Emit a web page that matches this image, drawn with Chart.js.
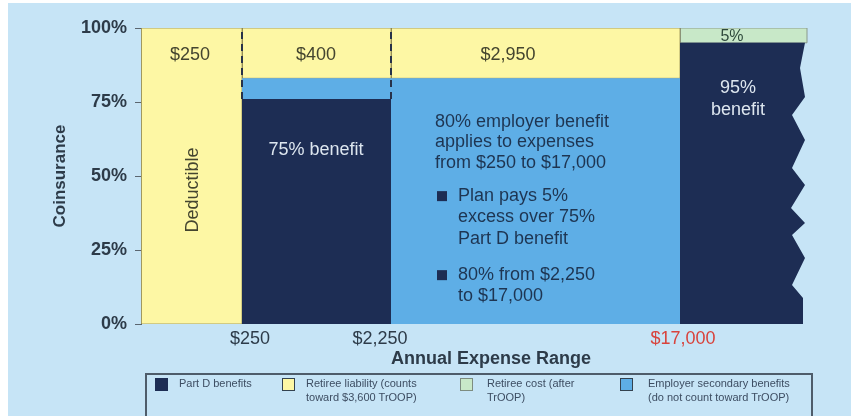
<!DOCTYPE html>
<html>
<head>
<meta charset="utf-8">
<script src="https://cdn.jsdelivr.net/npm/chart.js@4.4.1/dist/chart.umd.min.js"></script>
<style>
  html, body { margin: 0; padding: 0; background: #ffffff; }
  body { width: 851px; height: 416px; position: relative; overflow: hidden; font-family: "Liberation Sans", Arial, sans-serif; }
  #bg { position: absolute; left: 8px; top: 3px; right: 0; bottom: 0; background: #c6e4f6; }
  #chart { position: absolute; left: 0; top: 0; }
  #legend { position: absolute; left: 145px; top: 373px; width: 668px; height: 60px; border: 2px solid #4e5c6a; box-sizing: border-box; }
  .item { position: absolute; top: 1px; font-size: 11px; line-height: 14px; color: #3d4d62; white-space: nowrap; }
  .sw { position: absolute; top: 3px; width: 13px; height: 13px; box-sizing: border-box; border: 1px solid #34424f; }
</style>
</head>
<body>
<div id="bg"></div>
<canvas id="chart" width="851" height="416"></canvas>
<div id="legend">
  <div class="sw" style="left:8px;background:#1d2d54;border-color:#1d2d54"></div>
  <div class="item" style="left:32px">Part D benefits</div>
  <div class="sw" style="left:135px;background:#fdf7a4"></div>
  <div class="item" style="left:159px">Retiree liability (counts<br>toward $3,600 TrOOP)</div>
  <div class="sw" style="left:313px;background:#c8e8c8;border-color:#7d8c80"></div>
  <div class="item" style="left:340px">Retiree cost (after<br>TrOOP)</div>
  <div class="sw" style="left:473px;background:#5eaee6"></div>
  <div class="item" style="left:501px">Employer secondary benefits<br>(do not count toward TrOOP)</div>
</div>
<script>
// expense bands, left to right; the x axis is schematic, not to dollar scale
const bandNames = ["Deductible", "$250 to $2,250", "$2,250 to $17,000", "Over $17,000"];
const bandEdges = [0, 101, 250, 539, 666];

// coinsurance share (%) in each band, stacked bottom to top
const partD = [0, 76, 0, 95];
const employer = [0, 7, 83, 0];
const retireeLiability = [100, 17, 17, 0];
const retireeCost = [0, 0, 0, 5];

// torn right edge of the last Part D band, top to bottom
const jaggedEdge = [
  [664, 95], [659, 86.5], [664, 76.7], [651, 70.6], [664, 62.2], [651, 52.7],
  [664, 47], [650, 39.2], [664, 34.1], [651, 30.1], [664, 22.3], [651, 13.2],
  [662, 8.8], [662, 0]
];

const yTickValues = [0, 25, 50, 75, 100];
const xTickPos = [109, 239, 542];
const xTickLabels = ["$250", "$2,250", "$17,000"];

const FONT = "'Liberation Sans', Arial, sans-serif";
const NAVY = "#1d2d54";
const INK = "#2d3b49";

const series = [
  { values: partD, color: NAVY, border: 0 },
  { values: employer, color: "#5eaee6", border: 0 },
  { values: retireeLiability, color: "#fdf7a4", border: 1, line: "rgba(130,120,70,0.7)" },
  { values: retireeCost, color: "#c8e8c8", border: 1, line: "#8a9a8c" },
];

const datasets = [];

// dashed dividers between the first three bands
[1, 2].forEach(i => {
  datasets.push({
    data: [{ x: bandEdges[i], y: partD[1] }, { x: bandEdges[i], y: 100 }],
    showLine: true, borderColor: "#27324a", borderWidth: 2, borderDash: [7, 5],
    pointRadius: 0, fill: false,
  });
});

const base = [0, 0, 0, 0];
series.forEach((s, si) => {
  s.values.forEach((v, i) => {
    if (!v) return;
    const x0 = bandEdges[i], x1 = bandEdges[i + 1];
    const y0 = base[i], y1 = base[i] + v;
    let pts;
    if (si === 0 && i === 3) {
      pts = [{ x: x0, y: y0 }, { x: x0, y: y1 }].concat(jaggedEdge.map(p => ({ x: p[0], y: p[1] })));
    } else {
      pts = [{ x: x0, y: y0 }, { x: x1, y: y0 }, { x: x1, y: y1 }, { x: x0, y: y1 }, { x: x0, y: y0 }];
    }
    datasets.push({
      data: pts, showLine: true, fill: "shape",
      backgroundColor: s.color, borderColor: s.line || s.color, borderWidth: s.border,
      pointRadius: 0, tension: 0,
    });
    base[i] = y1;
  });
});

const notes = [
  { t: "$250", x: 49, y: 90.9, c: "#44452f" },
  { t: "$400", x: 175, y: 90.9, c: "#44452f" },
  { t: "$2,950", x: 367, y: 90.9, c: "#44452f" },
  { t: "5%", x: 591, y: 97, c: "#2f4a3c", size: 16 },
  { t: "95%", x: 597, y: 79.7, c: "#dde6ef" },
  { t: "benefit", x: 597, y: 72.3, c: "#dde6ef" },
  { t: "75% benefit", x: 175, y: 58.8, c: "#dde6ef" },
  { t: "Deductible", x: 52, y: 45.3, c: "#44452f", rot: true },
  { t: "80% employer benefit", x: 294, y: 68.2, c: "#1e3552", left: true },
  { t: "applies to expenses", x: 294, y: 61.5, c: "#1e3552", left: true },
  { t: "from $250 to $17,000", x: 294, y: 54.4, c: "#1e3552", left: true },
  { t: "Plan pays 5%", x: 317, y: 43.2, c: "#1e3552", left: true, bullet: true },
  { t: "excess over 75%", x: 317, y: 36.1, c: "#1e3552", left: true },
  { t: "Part D benefit", x: 317, y: 28.7, c: "#1e3552", left: true },
  { t: "80% from $2,250", x: 317, y: 16.5, c: "#1e3552", left: true, bullet: true },
  { t: "to $17,000", x: 317, y: 9.6, c: "#1e3552", left: true },
];

const notesPlugin = {
  id: "notes",
  afterDatasetsDraw(chart) {
    const { ctx, scales } = chart;
    ctx.save();
    notes.forEach(n => {
      const px = scales.x.getPixelForValue(n.x);
      const py = scales.y.getPixelForValue(n.y);
      ctx.font = (n.size || 18) + "px " + FONT;
      ctx.fillStyle = n.c;
      ctx.textBaseline = "middle";
      ctx.textAlign = n.left ? "left" : "center";
      if (n.rot) {
        ctx.save();
        ctx.translate(px, py);
        ctx.rotate(-Math.PI / 2);
        ctx.fillText(n.t, 0, 0);
        ctx.restore();
      } else {
        ctx.fillText(n.t, px, py);
      }
      if (n.bullet) {
        ctx.fillStyle = NAVY;
        ctx.fillRect(px - 21, py - 5, 10, 10);
      }
    });
    ctx.restore();
  }
};

new Chart(document.getElementById("chart"), {
  type: "scatter",
  data: { datasets },
  plugins: [notesPlugin],
  options: {
    responsive: false,
    animation: false,
    events: [],
    devicePixelRatio: 1,
    layout: { padding: { left: 45, top: 28, right: 10, bottom: 43 } },
    plugins: { legend: { display: false }, tooltip: { enabled: false } },
    scales: {
      x: {
        type: "linear", min: 0, max: 700,
        afterBuildTicks: s => { s.ticks = xTickPos.map(v => ({ value: v })); },
        ticks: {
          callback: (v, i) => xTickLabels[i],
          font: { family: FONT, size: 18 },
          color: c => (c.index === 2 ? "#d8433c" : INK),
          padding: -4, maxRotation: 0, autoSkip: false,
        },
        grid: { display: false },
        border: { display: false },
        title: {
          display: true, text: "Annual Expense Range",
          font: { family: FONT, size: 18, weight: "bold" }, color: INK,
          padding: { top: 0, bottom: 3 },
        },
        afterFit: s => { s.height = 49; },
      },
      y: {
        type: "linear", min: 0, max: 100,
        afterBuildTicks: s => { s.ticks = yTickValues.map(v => ({ value: v })); },
        ticks: {
          callback: v => v + "%",
          font: { family: FONT, size: 18, weight: "bold" }, color: INK, padding: 8,
        },
        grid: { drawOnChartArea: false, drawTicks: true, tickLength: 6, color: "#5b6670" },
        border: { display: true, color: "#5b6670", width: 1 },
        title: {
          display: true, text: "Coinsurance",
          font: { family: FONT, size: 17, weight: "bold" }, color: INK,
          padding: { top: 5, bottom: 0 },
        },
        afterFit: s => { s.width = 96; },
      },
    },
  },
});
</script>
</body>
</html>
